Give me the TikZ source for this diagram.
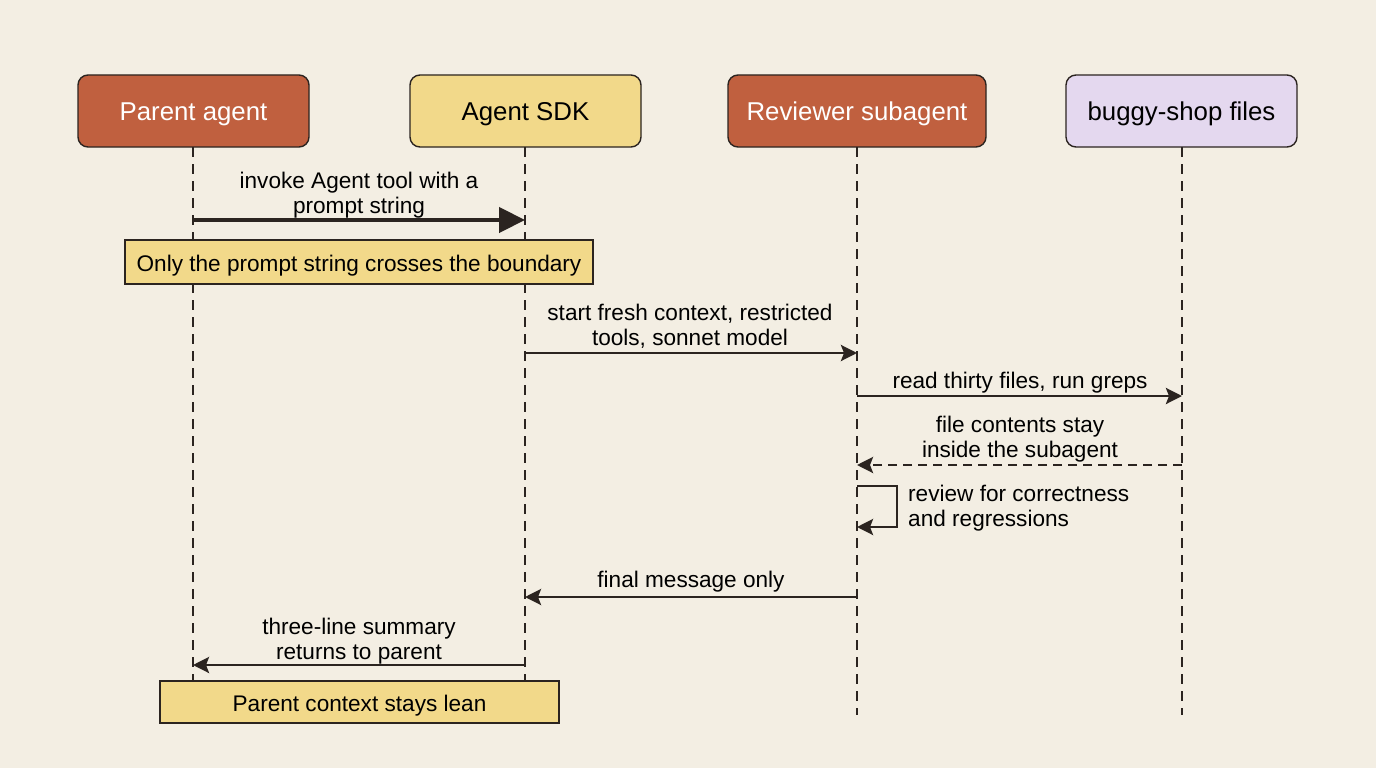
\documentclass[tikz,border=0pt]{standalone}
\usepackage{fontspec}
\setmainfont{Liberation Sans}
\usetikzlibrary{arrows.meta}
\definecolor{bg}{HTML}{F3EEE3}
\definecolor{rust}{HTML}{C0603F}
\definecolor{sand}{HTML}{F2D98A}
\definecolor{lav}{HTML}{E4D8EF}
\definecolor{ink}{HTML}{2B2420}
\tikzset{
  head/.style={draw=ink, line width=1.4pt, rounded corners=10pt, minimum height=72pt,
    font=\fontsize{25.8}{30}\selectfont, text height=18.6pt, text depth=0pt},
  lifeline/.style={draw=ink, line width=1.9pt, dash pattern=on 10pt off 7pt},
  lbl/.style={font=\fontsize{22.6}{25}\selectfont, align=center, text=black, inner sep=0pt},
  notebox/.style={draw=ink, line width=1.3pt, fill=sand, font=\fontsize{22.6}{25}\selectfont,
    inner sep=0pt, text height=18pt, text depth=0pt},
  msg/.style={draw=ink, line width=2.8pt, -{Stealth[length=16pt,width=16pt,inset=3pt]}},
  bigmsg/.style={draw=ink, line width=4.4pt, -{Triangle[length=26pt,width=25pt]}},
  retmsg/.style={msg, dash pattern=on 9pt off 6pt}
}
\begin{document}
\begin{tikzpicture}[x=1pt,y=-1pt]
\fill[bg] (0,0) rectangle (1376,768);
\useasboundingbox (0,0) rectangle (1376,768);
% headers
\node[head, fill=rust, text=white, minimum width=231pt] (pa) at (193.5,111) {Parent agent};
\node[head, fill=sand, text=black, minimum width=231pt] (sdk) at (525.5,111) {Agent SDK};
\node[head, fill=rust, text=white, minimum width=258pt] (rev) at (857,111) {Reviewer subagent};
\node[head, fill=lav, text=black, minimum width=231pt] (files) at (1181.5,111) {buggy-shop files};
% lifeline ends
\coordinate (paend) at (193,715);
\coordinate (sdkend) at (525,715);
\coordinate (revend) at (857,715);
\coordinate (filesend) at (1182,715);
\draw[lifeline] (193,147) -- (paend);
\draw[lifeline] (525,147) -- (sdkend);
\draw[lifeline] (857,147) -- (revend);
\draw[lifeline] (1182,147) -- (filesend);
% message points
\coordinate (m1a) at (193,220); \coordinate (m1b) at (525,220);
\coordinate (m2a) at (525,353); \coordinate (m2b) at (857,353);
\coordinate (m3a) at (857,396); \coordinate (m3b) at (1182,396);
\coordinate (m4a) at (1182,465); \coordinate (m4b) at (857,465);
\coordinate (s1) at (857,486); \coordinate (s2) at (897,486);
\coordinate (s3) at (897,527); \coordinate (s4) at (857,527);
\coordinate (m5a) at (857,597); \coordinate (m5b) at (525,597);
\coordinate (m6a) at (525,665); \coordinate (m6b) at (193,665);
% messages
\draw[bigmsg] (m1a) -- (m1b);
\node[lbl] (l1) at (359,195) {invoke Agent tool with a\\prompt string};
\node[notebox, minimum width=468pt, minimum height=44pt] (n1) at (359,262) {Only the prompt string crosses the boundary};
\draw[msg] (m2a) -- (m2b);
\node[lbl] (l2) at (690,326) {start fresh context, restricted\\tools, sonnet model};
\draw[msg] (m3a) -- (m3b);
\node[lbl] (l3) at (1020,383) {read thirty files, run greps};
\draw[retmsg] (m4a) -- (m4b);
\node[lbl] (l4) at (1020,439) {file contents stay\\inside the subagent};
\draw[msg] (s1) -- (s2) -- (s3) -- (s4);
\node[lbl, align=left, anchor=west] (l5) at (908,508) {review for correctness\\and regressions};
\draw[msg] (m5a) -- (m5b);
\node[lbl] (l6) at (691,582) {final message only};
\draw[msg] (m6a) -- (m6b);
\node[lbl] (l7) at (359,641) {three-line summary\\returns to parent};
\node[notebox, minimum width=399pt, minimum height=42pt] (n2) at (359.5,702) {Parent context stays lean};
\end{tikzpicture}
\end{document}
